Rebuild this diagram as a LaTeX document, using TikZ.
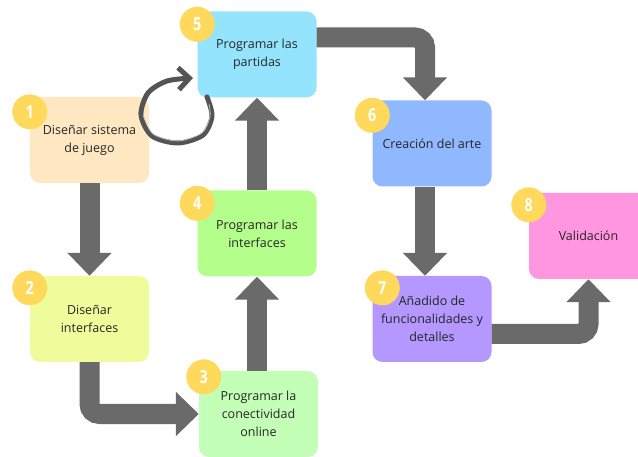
\documentclass[tikz,border=0pt]{standalone}
\usepackage{fontspec}
\setmainfont{Open Sans}
\newfontfamily\numfont[FakeStretch=0.8]{Open Sans}
\usetikzlibrary{arrows.meta}
\definecolor{peach}{HTML}{FFE8C1}
\definecolor{lime}{HTML}{EEFC9C}
\definecolor{mint}{HTML}{C3FFB7}
\definecolor{leaf}{HTML}{B4FF8B}
\definecolor{sky}{HTML}{95E4FE}
\definecolor{cornflower}{HTML}{90B8FF}
\definecolor{lilac}{HTML}{B497FF}
\definecolor{rosa}{HTML}{FF96DF}
\definecolor{sun}{HTML}{FFD95C}
\definecolor{arrowgray}{HTML}{6A6A6A}
\definecolor{ink}{HTML}{262626}
\definecolor{pencil}{HTML}{545454}
\tikzset{>=Stealth,
  box/.style={rectangle, rounded corners=10pt, minimum width=119pt,
    minimum height=86pt, inner sep=0pt, align=center, text=ink,
    font=\fontsize{12.5}{18}\selectfont},
  badge/.style={circle, fill=sun, minimum size=35pt, inner sep=0pt,
    text=white, font=\numfont\bfseries\fontsize{18}{18}\selectfont},
  flow/.style={line width=20pt, draw=arrowgray, rounded corners=10pt,
    -{Triangle[length=23pt,width=43pt]}},
  loopline/.style={line width=5pt, draw=pencil, line cap=round,
    -{Straight Barb[length=11pt,width=22pt]}}}

\begin{document}
\begin{tikzpicture}[x=1pt,y=-1pt]
\clip (0,0) rectangle (638,457);

\node[box,fill=peach]      (sistema)      at (89.5,140)  {Diseñar sistema\\de juego};
\node[box,fill=lime]       (interfaces)   at (89.5,319)  {Diseñar\\interfaces};
\node[box,fill=mint]       (conectividad) at (258.5,414) {Programar la\\conectividad\\online};
\node[box,fill=leaf]       (progint)      at (257,233.5) {Programar las\\interfaces};
\node[box,fill=sky]        (partidas)     at (257,54.5)  {Programar las\\partidas};
\node[box,fill=cornflower] (arte)         at (432,143.5) {Creación del arte};
\node[box,fill=lilac]      (detalles)     at (432,319)   {Añadido de\\funcionalidades y\\detalles};
\node[box,fill=rosa]       (validacion)   at (588.5,236) {Validación};

% flechas
\draw[flow] (sistema.south) -- (interfaces.north);
\draw[flow] (interfaces.south) |- (conectividad.west);
\draw[flow] (progint.south |- conectividad.north) -- (progint.south);
\draw[flow] (progint.north) -- (partidas.south);
\draw[flow] ([yshift=17pt]partidas.east) -| ([xshift=-7pt]arte.north);
\draw[flow] ([xshift=-7pt]arte.south) -- ([xshift=-7pt]detalles.north);
\draw[flow] ([yshift=-15pt]detalles.east) -| (validacion.south);

% vuelta
\draw[loopline] plot[smooth] coordinates {(207,97) (212,116) (203,135)
  (178,143) (152,136) (141,115) (148,93) (167,81) (193,78)};
\draw[white!70!pencil, line width=0.6pt] plot[smooth] coordinates {(209,104)
  (210,117) (202,133) (178,141) (153,134) (143,115)};

\node[badge] (n1) at ([yshift=-15pt]sistema.north west) {1};
\node[badge] (n2) at ([yshift=-12pt]interfaces.north west) {2};
\node[badge] (n3) at ([xshift=5pt,yshift=-6pt]conectividad.north west) {3};
\node[badge] (n4) at ([yshift=-13pt]progint.north west) {4};
\node[badge] (n5) at ([yshift=-13pt]partidas.north west) {5};
\node[badge] (n6) at ([yshift=-15pt]arte.north west) {6};
\node[badge] (n7) at ([xshift=10pt,yshift=-12pt]detalles.north west) {7};
\node[badge] (n8) at ([yshift=-12pt]validacion.north west) {8};

\end{tikzpicture}
\end{document}
